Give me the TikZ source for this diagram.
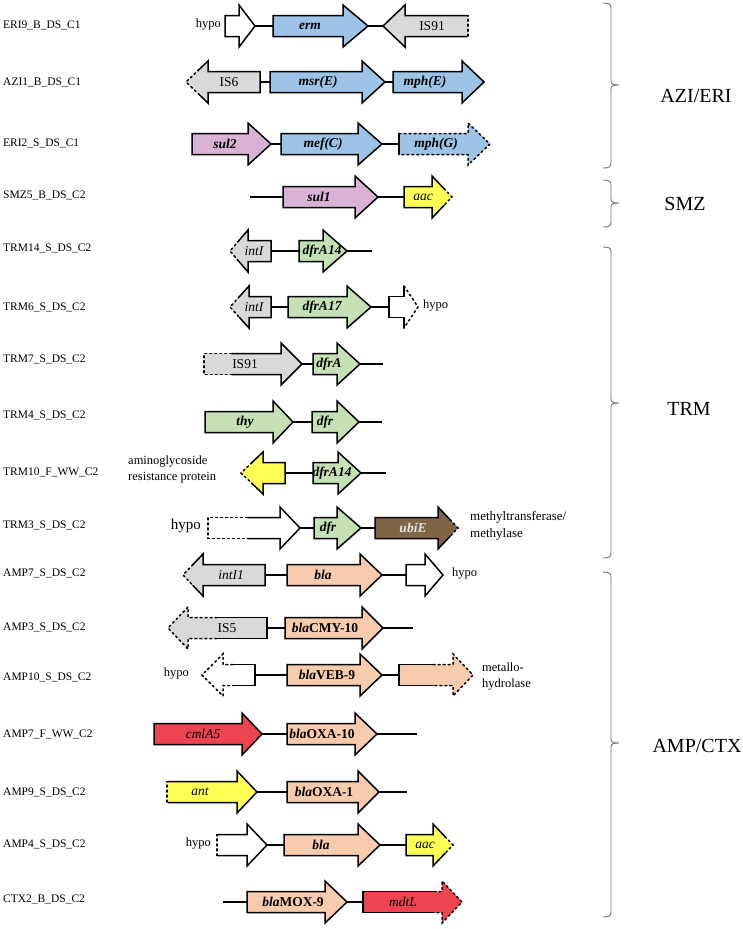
\documentclass[tikz,border=0pt]{standalone}
\usepackage{fontspec}
\setmainfont{Liberation Serif}

\definecolor{genblue}{HTML}{9DC3E6}
\definecolor{gengray}{HTML}{D9D9D9}
\definecolor{genpink}{HTML}{D9B2D6}
\definecolor{genyellow}{HTML}{FFFF55}
\definecolor{gengreen}{HTML}{C5E0B4}
\definecolor{genpeach}{HTML}{F8CBAD}
\definecolor{genred}{HTML}{EE4452}
\definecolor{genbrown}{HTML}{7F6446}

\def\bodyh{10.5}
\def\headh{21}

% #1 name, #2 tail, #3 head base, #4 tip, #5 row, #6 fill,
% #7 dashed part at the tail, #8 dashed part at the head
\newcommand{\drawgene}[8]{%
  \fill[#6] (#2,#5-\bodyh) -- (#3,#5-\bodyh) -- (#3,#5-\headh) -- (#4,#5)
    -- (#3,#5+\headh) -- (#3,#5+\bodyh) -- (#2,#5+\bodyh) -- cycle;
  \pgfmathsetmacro\gxt{#2+#7*(#3-#2)}%
  \pgfmathsetmacro\gxh{#3-max(#8-1,0)*(#3-#2)}%
  \pgfmathsetmacro\gpx{#3+(1-min(#8,1))*(#4-#3)}%
  \pgfmathsetmacro\gpy{\headh*min(#8,1)}%
  \ifdim#8pt>1pt
    \draw[dashline] (\gxh,#5-\bodyh) -- (#3,#5-\bodyh) -- (#3,#5-\headh) -- (#4,#5)
      -- (#3,#5+\headh) -- (#3,#5+\bodyh) -- (\gxh,#5+\bodyh);
    \draw[outline] (\gxh,#5-\bodyh) -- (#2,#5-\bodyh) -- (#2,#5+\bodyh) -- (\gxh,#5+\bodyh);
  \else\ifdim#8pt>0pt
    \draw[dashline] (\gpx,#5-\gpy) -- (#4,#5) -- (\gpx,#5+\gpy);
    \draw[outline] (\gpx,#5-\gpy) -- (#3,#5-\headh) -- (#3,#5-\bodyh) -- (#2,#5-\bodyh)
      -- (#2,#5+\bodyh) -- (#3,#5+\bodyh) -- (#3,#5+\headh) -- (\gpx,#5+\gpy);
  \else\ifdim#7pt>0pt
    \draw[dashline] (\gxt,#5-\bodyh) -- (#2,#5-\bodyh) -- (#2,#5+\bodyh) -- (\gxt,#5+\bodyh);
    \draw[outline] (\gxt,#5-\bodyh) -- (#3,#5-\bodyh) -- (#3,#5-\headh) -- (#4,#5)
      -- (#3,#5+\headh) -- (#3,#5+\bodyh) -- (\gxt,#5+\bodyh);
  \else
    \draw[outline] (#2,#5-\bodyh) -- (#3,#5-\bodyh) -- (#3,#5-\headh) -- (#4,#5)
      -- (#3,#5+\headh) -- (#3,#5+\bodyh) -- (#2,#5+\bodyh) -- cycle;
  \fi\fi\fi
  \coordinate (#1-t) at (#2,#5);
  \coordinate (#1-p) at (#4,#5);
}

% top, tip, bottom
\newcommand{\groupbrace}[3]{%
  \draw[bracestyle] (603,#1) .. controls (609,#1) and (611,#1+1) .. (611,#1+5)
    -- (611,#2-4) .. controls (611,#2-1) and (613,#2) .. (619,#2)
    .. controls (613,#2) and (611,#2+1) .. (611,#2+4)
    -- (611,#3-5) .. controls (611,#3-1) and (609,#3) .. (603,#3);
}

\begin{document}
\begin{tikzpicture}[x=1pt,y=-1pt,
    outline/.style={line width=1.5pt,line cap=round,line join=miter},
    dashline/.style={outline,dash pattern=on 2pt off 3pt},
    link/.style={line width=1.3pt},
    genelabel/.style={inner sep=0pt,font=\fontsize{13.5}{16}\selectfont\bfseries\itshape},
    rowlabel/.style={anchor=west,inner sep=0pt,font=\fontsize{11.5}{14}\selectfont},
    note/.style={inner sep=0pt,font=\fontsize{12.5}{16}\selectfont,align=left},
    grouplabel/.style={inner sep=0pt,font=\fontsize{20}{24}\selectfont},
    bracestyle/.style={draw=black!55,line width=0.9pt},
    fblue/.style={fill=genblue}, fgray/.style={fill=gengray},
    fpink/.style={fill=genpink}, fyellow/.style={fill=genyellow},
    fgreen/.style={fill=gengreen}, fpeach/.style={fill=genpeach},
    fred/.style={fill=genred}, fbrown/.style={fill=genbrown},
    fwhite/.style={fill=white}]
  \useasboundingbox (0,0) rectangle (743,929);

  % row names
  \node[rowlabel] (r1) at (3,25) {ERI9\_B\_DS\_C1};
  \node[rowlabel] (r2) at (3,82) {AZI1\_B\_DS\_C1};
  \node[rowlabel] (r3) at (3,143) {ERI2\_S\_DS\_C1};
  \node[rowlabel] (r4) at (3,195) {SMZ5\_B\_DS\_C2};
  \node[rowlabel] (r5) at (3,248) {TRM14\_S\_DS\_C2};
  \node[rowlabel] (r6) at (3,307) {TRM6\_S\_DS\_C2};
  \node[rowlabel] (r7) at (3,359) {TRM7\_S\_DS\_C2};
  \node[rowlabel] (r8) at (3,415) {TRM4\_S\_DS\_C2};
  \node[rowlabel] (r9) at (3,472) {TRM10\_F\_WW\_C2};
  \node[rowlabel] (r10) at (3,525) {TRM3\_S\_DS\_C2};
  \node[rowlabel] (r11) at (3,573) {AMP7\_S\_DS\_C2};
  \node[rowlabel] (r12) at (3,627) {AMP3\_S\_DS\_C2};
  \node[rowlabel] (r13) at (3,677) {AMP10\_S\_DS\_C2};
  \node[rowlabel] (r14) at (3,734) {AMP7\_F\_WW\_C2};
  \node[rowlabel] (r15) at (3,792) {AMP9\_S\_DS\_C2};
  \node[rowlabel] (r16) at (3,844) {AMP4\_S\_DS\_C2};
  \node[rowlabel] (r17) at (3,899) {CTX2\_B\_DS\_C2};

  % ERI9
  \drawgene{hypoa}{225}{239}{255}{26}{fwhite}{0}{0}
  \drawgene{erm}{273}{343}{368}{26}{fblue}{0}{0}
  \drawgene{isa}{468}{405}{383}{26}{fgray}{0.02}{0}
  \node[genelabel] (ermtext) at (310,26) {erm};
  \node[genelabel] (isatext) at (432,26) {\normalfont IS91};
  \node[note,anchor=east] (hypo1) at (221,25) {hypo};
  \draw[link] (hypoa-p) -- (erm-t);
  \draw[link] (erm-p) -- (isa-p);

  % AZI1
  \drawgene{isb}{260}{208}{186}{82}{fgray}{0}{0.6}
  \drawgene{msr}{270}{362}{385}{82}{fblue}{0}{0}
  \drawgene{mphe}{393}{462}{484}{82}{fblue}{0}{0}
  \node[genelabel] (isbtext) at (229,82) {\normalfont IS6};
  \node[genelabel] (msrtext) at (318,82) {msr(E)};
  \node[genelabel] (mphetext) at (425,82) {mph(E)};
  \draw[link] (isb-t) -- (msr-t);
  \draw[link] (msr-p) -- (mphe-t);

  % ERI2
  \drawgene{sula}{192}{248}{271}{144}{fpink}{0}{0}
  \drawgene{mef}{281}{358}{382}{144}{fblue}{0}{0}
  \drawgene{mphg}{399}{468}{490}{144}{fblue}{0}{2}
  \node[genelabel] (sulatext) at (225,144) {sul2};
  \node[genelabel] (meftext) at (323,144) {mef(C)};
  \node[genelabel] (mphgtext) at (436,144) {mph(G)};
  \draw[link] (sula-p) -- (mef-t);
  \draw[link] (mef-p) -- (mphg-t);

  % SMZ5
  \coordinate (s5a) at (250,197);
  \drawgene{sulb}{283}{355}{378}{197}{fpink}{0}{0}
  \drawgene{aaca}{404}{432}{452}{197}{fyellow}{0}{0.4}
  \node[genelabel] (sulbtext) at (319,197) {sul1};
  \node[genelabel] (aacatext) at (423,197) {\mdseries aac};
  \draw[link] (s5a) -- (sulb-t);
  \draw[link] (sulb-p) -- (aaca-t);

  % TRM14
  \drawgene{inta}{271}{248}{230}{251}{fgray}{0}{0.5}
  \drawgene{dfra}{299}{323}{347}{251}{fgreen}{0}{0}
  \coordinate (t14e) at (372,251);
  \node[genelabel] (intatext) at (254,251) {\mdseries intI};
  \node[genelabel] (dfratext) at (322,251) {dfrA14};
  \draw[link] (inta-t) -- (dfra-t);
  \draw[link] (dfra-p) -- (t14e);

  % TRM6
  \drawgene{intb}{271}{249}{230}{307}{fgray}{0}{0.5}
  \drawgene{dfrb}{288}{347}{371}{307}{fgreen}{0}{0}
  \drawgene{hypob}{389}{404}{418}{307}{fwhite}{0}{1}
  \node[genelabel] (intbtext) at (254,307) {\mdseries intI};
  \node[genelabel] (dfrbtext) at (322,307) {dfrA17};
  \node[note,anchor=west] (hypo2) at (423,306) {hypo};
  \draw[link] (intb-t) -- (dfrb-t);
  \draw[link] (dfrb-p) -- (hypob-t);

  % TRM7
  \drawgene{isc}{204}{281}{302}{364}{fgray}{0.36}{0}
  \drawgene{dfrc}{313}{337}{360}{364}{fgreen}{0}{0}
  \coordinate (t7e) at (383,364);
  \node[genelabel] (isctext) at (245,364) {\normalfont IS91};
  \node[genelabel] (dfrctext) at (329,364) {dfrA};
  \draw[link] (isc-p) -- (dfrc-t);
  \draw[link] (dfrc-p) -- (t7e);

  % TRM4
  \drawgene{thy}{205}{273}{293}{422}{fgreen}{0}{0}
  \drawgene{dfrd}{312}{337}{359}{422}{fgreen}{0}{0}
  \coordinate (t4e) at (382,422);
  \node[genelabel] (thytext) at (245,422) {thy};
  \node[genelabel] (dfrdtext) at (325,422) {dfr};
  \draw[link] (thy-p) -- (dfrd-t);
  \draw[link] (dfrd-p) -- (t4e);

  % TRM10
  \drawgene{amino}{285}{263}{241}{473}{fyellow}{0}{0.5}
  \drawgene{dfre}{313}{338}{361}{473}{fgreen}{0}{0}
  \coordinate (t10e) at (386,473);
  \node[genelabel] (dfretext) at (332,473) {dfrA14};
  \node[note,anchor=west] (aminotext) at (128,469) {aminoglycoside\\resistance protein};
  \draw[link] (amino-t) -- (dfre-t);
  \draw[link] (dfre-p) -- (t10e);

  % TRM3
  \drawgene{hypoc}{208}{280}{300}{528}{fwhite}{0.55}{0}
  \drawgene{dfrf}{314}{337}{361}{528}{fgreen}{0}{0}
  \drawgene{ubie}{375}{438}{458}{528}{fbrown}{0}{0.4}
  \node[genelabel] (dfrftext) at (328,528) {dfr};
  \node[genelabel,text=black!10] (ubietext) at (413,528) {ubiE};
  \node[note,anchor=east,font=\fontsize{15}{18}\selectfont] (hypo3) at (201,526) {hypo};
  \node[note,anchor=west,font=\fontsize{13}{17}\selectfont] (methyl) at (470,526) {methyltransferase/\\methylase};
  \draw[link] (hypoc-p) -- (dfrf-t);
  \draw[link] (dfrf-p) -- (ubie-t);

  % AMP7_S
  \drawgene{intc}{265}{203}{183}{575}{fgray}{0}{0.5}
  \drawgene{blaa}{287}{360}{382}{575}{fpeach}{0}{0}
  \drawgene{hypod}{406}{425}{443}{575}{fwhite}{0}{0}
  \node[genelabel] (intctext) at (231,575) {\mdseries intI1};
  \node[genelabel] (blaatext) at (323,575) {bla};
  \node[note,anchor=west] (hypo4) at (452,574) {hypo};
  \draw[link] (intc-t) -- (blaa-t);
  \draw[link] (blaa-p) -- (hypod-t);

  % AMP3
  \drawgene{isd}{267}{188}{168}{628}{fgray}{0}{1.37}
  \drawgene{cmy}{285}{362}{383}{628}{fpeach}{0}{0}
  \coordinate (a3e) at (413,628);
  \node[genelabel] (isdtext) at (227,628) {\normalfont IS5};
  \node[genelabel] (cmytext) at (325,628) {bla\upshape CMY-10};
  \draw[link] (isd-t) -- (cmy-t);
  \draw[link] (cmy-p) -- (a3e);

  % AMP10
  \drawgene{hypoe}{255}{223}{202}{675}{fwhite}{0}{1.31}
  \drawgene{veb}{287}{360}{382}{675}{fpeach}{0}{0}
  \drawgene{metal}{399}{453}{473}{675}{fpeach}{0}{1.37}
  \node[genelabel] (vebtext) at (327,675) {bla\upshape VEB-9};
  \node[note,anchor=east] (hypo5) at (189,674) {hypo};
  \node[note,anchor=west] (metaltext) at (482,677) {metallo-\\hydrolase};
  \draw[link] (hypoe-t) -- (veb-t);
  \draw[link] (veb-p) -- (metal-t);

  % AMP7_F
  \drawgene{cml}{154}{242}{262}{734}{fred}{0}{0}
  \drawgene{oxa}{287}{355}{377}{734}{fpeach}{0}{0}
  \coordinate (a7e) at (417,734);
  \node[genelabel] (cmltext) at (203,734) {\mdseries cmlA5};
  \node[genelabel] (oxatext) at (322,734) {bla\upshape OXA-10};
  \draw[link] (cml-p) -- (oxa-t);
  \draw[link] (oxa-p) -- (a7e);

  % AMP9
  \drawgene{ant}{167}{237}{257}{792}{fyellow}{0.02}{0}
  \drawgene{oxb}{287}{358}{379}{792}{fpeach}{0}{0}
  \coordinate (a9e) at (407,792);
  \node[genelabel] (anttext) at (200,792) {\mdseries ant};
  \node[genelabel] (oxbtext) at (324,792) {bla\upshape OXA-1};
  \draw[link] (ant-p) -- (oxb-t);
  \draw[link] (oxb-p) -- (a9e);

  % AMP4
  \drawgene{hypof}{217}{247}{267}{845}{fwhite}{0.02}{0}
  \drawgene{blab}{284}{358}{380}{845}{fpeach}{0}{0}
  \drawgene{aacb}{406}{433}{453}{845}{fyellow}{0}{0.4}
  \node[genelabel] (blabtext) at (321,845) {bla};
  \node[genelabel] (aacbtext) at (425,845) {\mdseries aac};
  \node[note,anchor=east] (hypo6) at (211,844) {hypo};
  \draw[link] (hypof-p) -- (blab-t);
  \draw[link] (blab-p) -- (aacb-t);

  % CTX2
  \coordinate (c2a) at (223,902);
  \drawgene{mox}{247}{325}{347}{902}{fpeach}{0}{0}
  \drawgene{mdt}{363}{442}{462}{902}{fred}{0}{1.1}
  \node[genelabel] (moxtext) at (293,902) {bla\upshape MOX-9};
  \node[genelabel] (mdttext) at (403,902) {\mdseries mdtL};
  \draw[link] (c2a) -- (mox-t);
  \draw[link] (mox-p) -- (mdt-t);

  % groups
  \groupbrace{3}{85}{168}
  \groupbrace{180}{203}{227}
  \groupbrace{247}{403}{558}
  \groupbrace{572}{743}{917}
  \node[grouplabel] (gazi) at (696,96) {AZI/ERI};
  \node[grouplabel] (gsmz) at (685,204) {SMZ};
  \node[grouplabel] (gtrm) at (689,409) {TRM};
  \node[grouplabel] (gamp) at (697,746) {AMP/CTX};
\end{tikzpicture}
\end{document}
